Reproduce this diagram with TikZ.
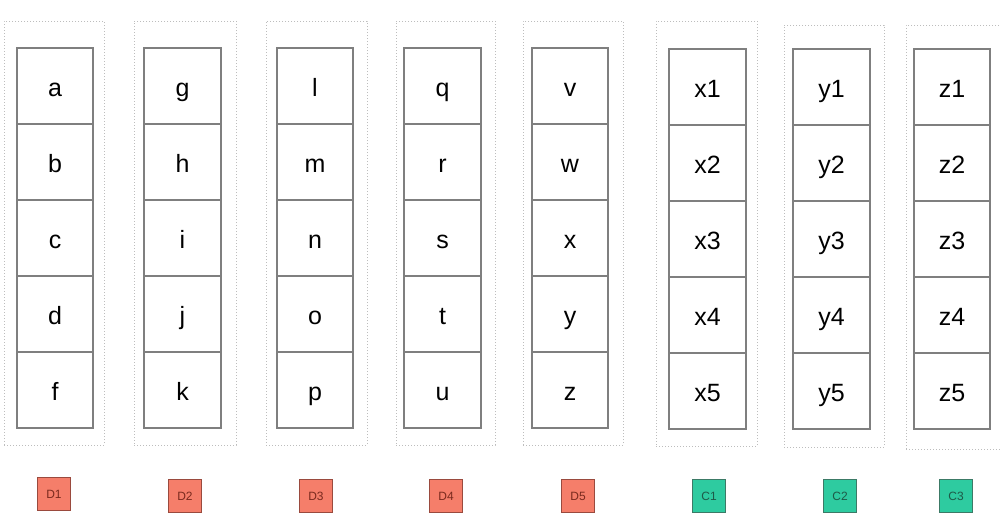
\documentclass[tikz,border=0pt]{standalone}
\usepackage{fontspec}
\setmainfont{Liberation Sans}
\definecolor{cellline}{HTML}{7F7F7F}
\definecolor{grpline}{HTML}{BDBDBD}
\definecolor{dfill}{HTML}{F57E6A}
\definecolor{dline}{HTML}{9A4A3E}
\definecolor{dtext}{HTML}{7A2A1E}
\definecolor{cfill}{HTML}{2ECBA0}
\definecolor{cline}{HTML}{3C7A66}
\definecolor{ctext}{HTML}{1E5A48}
\tikzset{
  cellbox/.style={draw=cellline, line width=1.1pt, anchor=north west,
    inner sep=0pt, outer sep=0pt, text height=21pt, text depth=0pt,
    font=\fontsize{25}{25}\selectfont},
  grpbox/.style={draw=grpline, line width=1pt, dash pattern=on 1pt off 2pt,
    anchor=north west, inner sep=0pt, outer sep=0pt},
  tagbox/.style={line width=0.9pt, minimum width=33pt, minimum height=33pt,
    inner sep=0pt, font=\fontsize{12}{12}\selectfont},
  dtag/.style={tagbox, draw=dline, fill=dfill, text=dtext},
  ctag/.style={tagbox, draw=cline, fill=cfill, text=ctext},
}
\begin{document}
\begin{tikzpicture}[x=1pt, y=-1pt]
\useasboundingbox (0,0) rectangle (1000,522);
% dotted group frames
\node[grpbox, minimum width=100pt, minimum height=424pt] (g1) at (4,21) {};
\node[grpbox, minimum width=102pt, minimum height=424pt] (g2) at (134,21) {};
\node[grpbox, minimum width=101pt, minimum height=424pt] (g3) at (266,21) {};
\node[grpbox, minimum width=99pt, minimum height=424pt] (g4) at (396,21) {};
\node[grpbox, minimum width=100pt, minimum height=424pt] (g5) at (523,21) {};
\node[grpbox, minimum width=101pt, minimum height=425pt] (g6) at (656,21) {};
\node[grpbox, minimum width=100pt, minimum height=422pt] (g7) at (784,25) {};
\node[grpbox, minimum width=100pt, minimum height=424pt] (g8) at (906,25) {};
% cell columns
\foreach \c/\x/\w/\y/\h/\la/\lb/\lc/\ld/\le in {
  1/17/76/48/76/a/b/c/d/f,
  2/144/77/48/76/g/h/i/j/k,
  3/277/76/48/76/l/m/n/o/p,
  4/404/77/48/76/q/r/s/t/u,
  5/532/76/48/76/v/w/x/y/z,
  6/669/77/49/76/x1/x2/x3/x4/x5,
  7/793/77/49/76/y1/y2/y3/y4/y5,
  8/914/76/49/76/z1/z2/z3/z4/z5}{
  \node[cellbox, minimum width=\w pt, minimum height=\h pt] (c\c r1) at (\x,\y) {\la};
  \node[cellbox, minimum width=\w pt, minimum height=\h pt] (c\c r2) at (c\c r1.south west) {\lb};
  \node[cellbox, minimum width=\w pt, minimum height=\h pt] (c\c r3) at (c\c r2.south west) {\lc};
  \node[cellbox, minimum width=\w pt, minimum height=\h pt] (c\c r4) at (c\c r3.south west) {\ld};
  \node[cellbox, minimum width=\w pt, minimum height=\h pt] (c\c r5) at (c\c r4.south west) {\le};
}
% tags
\node[dtag] (D1) at (54,494) {D1};
\node[dtag] (D2) at (185,496) {D2};
\node[dtag] (D3) at (316,496) {D3};
\node[dtag] (D4) at (446,496) {D4};
\node[dtag] (D5) at (578,496) {D5};
\node[ctag] (C1) at (709,496) {C1};
\node[ctag] (C2) at (840,496) {C2};
\node[ctag] (C3) at (956,496) {C3};
\end{tikzpicture}
\end{document}
